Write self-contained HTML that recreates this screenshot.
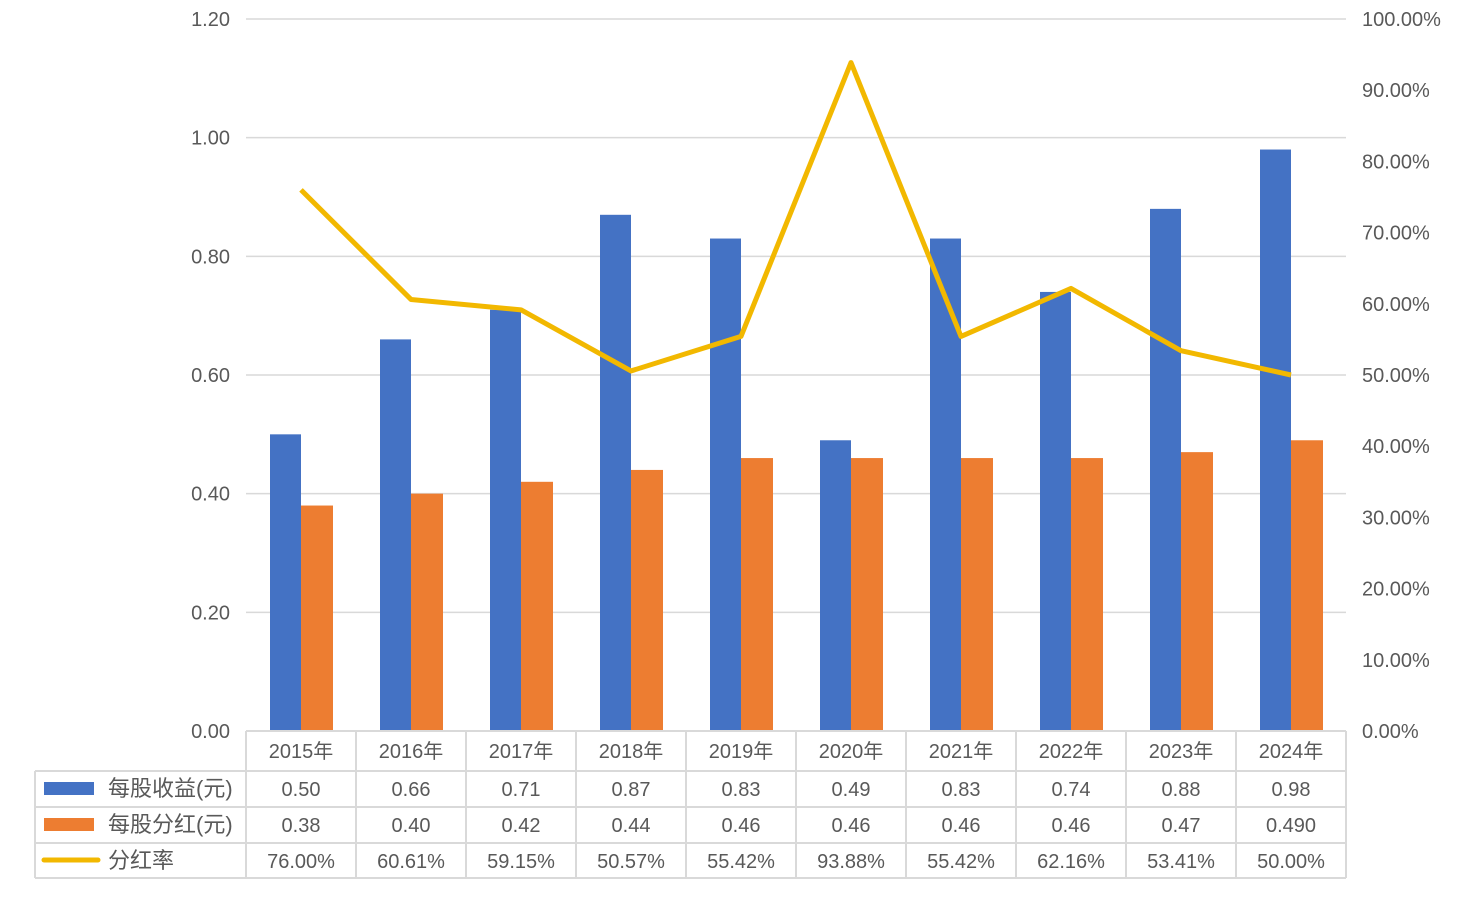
<!DOCTYPE html>
<html><head><meta charset="utf-8"><style>
body{margin:0;background:#fff;}
svg text{font-family:"Liberation Sans","Noto Sans CJK SC",sans-serif;fill:#595959;font-size:20px;}
</style></head><body>
<svg id="c" width="1462" height="902"></svg>
<script>
const categories=["2015年","2016年","2017年","2018年","2019年","2020年","2021年","2022年","2023年","2024年"];
const eps=[0.50,0.66,0.71,0.87,0.83,0.49,0.83,0.74,0.88,0.98];
const dps=[0.38,0.40,0.42,0.44,0.46,0.46,0.46,0.46,0.47,0.49];
const ratio=[76.00,60.61,59.15,50.57,55.42,93.88,55.42,62.16,53.41,50.00];
const epsLabels=["0.50","0.66","0.71","0.87","0.83","0.49","0.83","0.74","0.88","0.98"];
const dpsLabels=["0.38","0.40","0.42","0.44","0.46","0.46","0.46","0.46","0.47","0.490"];
const ratioLabels=["76.00%","60.61%","59.15%","50.57%","55.42%","93.88%","55.42%","62.16%","53.41%","50.00%"];
const leftTicks=[0,0.2,0.4,0.6,0.8,1.0,1.2];
const rightTicks=[0,10,20,30,40,50,60,70,80,90,100];
const seriesNames=["每股收益(元)","每股分红(元)","分红率"];

const NS="http://www.w3.org/2000/svg";
const svg=document.getElementById('c');
const X0=246,X1=1346,Y0=731,Y1=19;
const bw=(X1-X0)/categories.length;
const yL=v=>Y0-(v/1.2)*(Y0-Y1);
const yR=v=>Y0-(v/100)*(Y0-Y1);
const xc=i=>X0+bw*(i+0.5);
function mk(t,a,txt){const e=document.createElementNS(NS,t);for(const k in a)e.setAttribute(k,a[k]);if(txt!=null)e.textContent=txt;svg.appendChild(e);return e;}

leftTicks.forEach(v=>{
  const g=mk('line',{x1:X0,x2:X1,y1:yL(v),y2:yL(v),stroke:'#d9d9d9','stroke-width':1.5});
  
  
  const t=mk('text',{x:230,y:yL(v)+7,'text-anchor':'end'},v.toFixed(2));
  
  
});
rightTicks.forEach(v=>{
  const t=mk('text',{x:1362,y:yR(v)+7},v.toFixed(2)+'%');
  
  
});
const bwid=31;
categories.forEach((c,i)=>{
  const b=mk('rect',{x:xc(i)-bwid,y:yL(eps[i]),width:bwid,height:Y0-yL(eps[i]),fill:'#4472c4'});
  
  
  const o=mk('rect',{x:xc(i),y:yL(dps[i]),width:bwid+1,height:Y0-yL(dps[i]),fill:'#ed7d31'});
  
  
});
const pl=mk('polyline',{points:ratio.map((v,i)=>xc(i)+','+yR(v)).join(' '),fill:'none',stroke:'#f2b800','stroke-width':5,'stroke-linejoin':'round'});



const rows=[771,807,843,878];
const tc='#d9d9d9';
function ln(x1,y1,x2,y2){const l=mk('line',{x1,y1,x2,y2,stroke:tc,'stroke-width':2});}
ln(X0,Y0,X1,Y0);
rows.forEach(y=>ln(35,y,X1,y));
for(let i=0;i<=categories.length;i++)ln(X0+bw*i,Y0,X0+bw*i,878);
ln(35,771,35,878);
categories.forEach((c,i)=>{
  const t=mk('text',{x:xc(i),y:758,'text-anchor':'middle'},c);
  
  
  [[epsLabels,796],[dpsLabels,832],[ratioLabels,868]].forEach(([arr,y])=>{
    const v=mk('text',{x:xc(i),y,'text-anchor':'middle'},arr[i]);
    
    
  });
});
const k1=mk('rect',{x:44,y:782,width:50,height:13,fill:'#4472c4'});

const k2=mk('rect',{x:44,y:818,width:50,height:13,fill:'#ed7d31'});

const k3=mk('line',{x1:44,y1:860,x2:98,y2:860,stroke:'#f2b800','stroke-width':5,'stroke-linecap':'round'});

[796,832,868].forEach((y,j)=>{
  const t=mk('text',{x:108,y,style:'font-size:22px'},seriesNames[j]);
  
  
});
</script>
</body></html>
